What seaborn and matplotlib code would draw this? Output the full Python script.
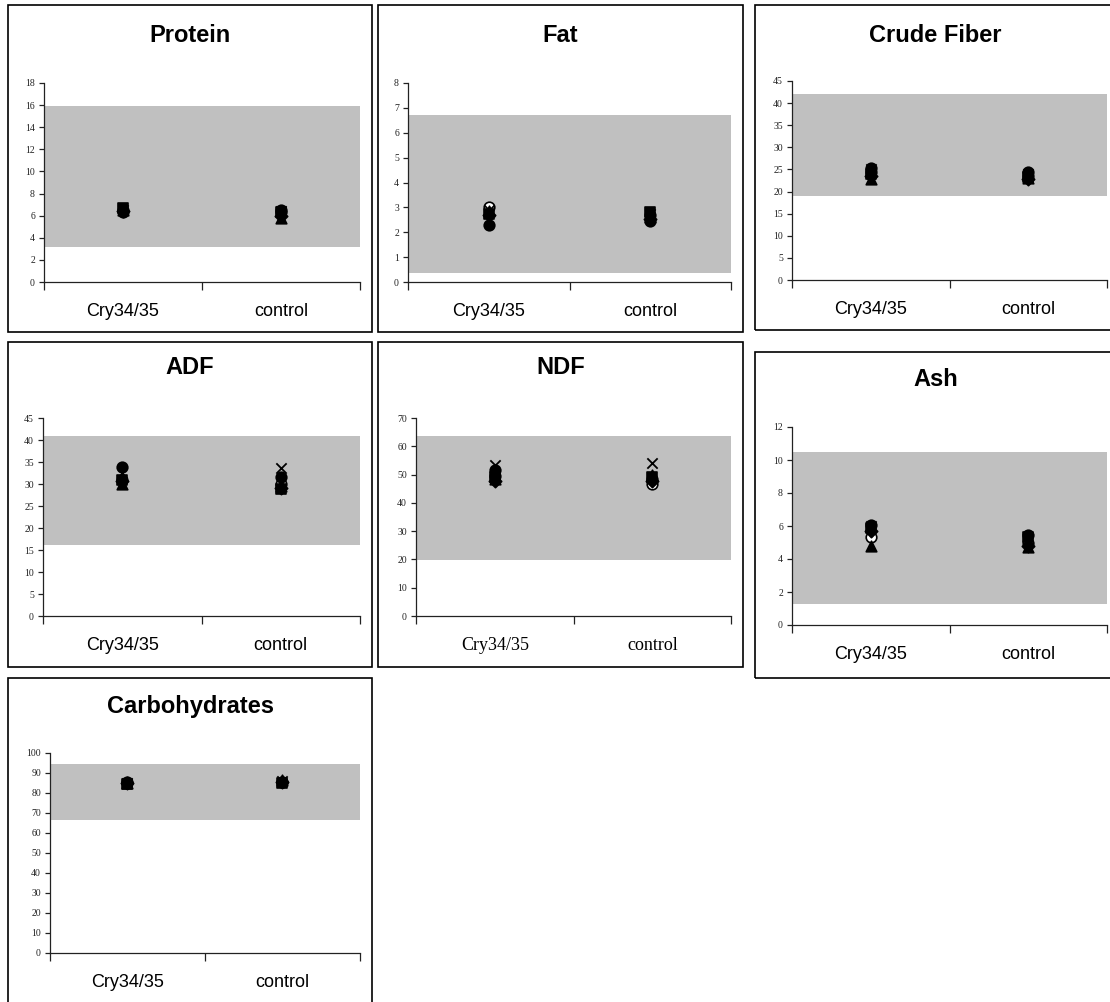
import matplotlib
matplotlib.use("Agg")
import matplotlib.pyplot as plt
import seaborn as sns
import pandas as pd
from matplotlib.patches import Rectangle

# ---- data -------------------------------------------------------------
groups = ["Cry34/35", "control"]
# one marker style per field site
sites = ["site 1", "site 2", "site 3", "site 4", "site 5", "site 6"]
# draw order: open circle and cross first so filled markers sit on top
site_marker = {"site 1": "o", "site 2": "x", "site 3": "o",
               "site 4": "s", "site 5": "^", "site 6": "D"}
site_fill = {"site 1": "white", "site 2": "black", "site 3": "black",
             "site 4": "black", "site 5": "black", "site 6": "black"}

protein_cry = [6.5, 6.5, 6.3, 6.7, 6.5, 6.4]
protein_ctl = [6.3, 6.4, 6.5, 6.3, 5.8, 6.0]
protein_range = (3.15, 15.9)

fat_cry = [3.02, 2.9, 2.28, 2.75, 2.85, 2.7]
fat_ctl = [2.7, 2.75, 2.45, 2.82, 2.6, 2.55]
fat_range = (0.37, 6.7)

fiber_cry = [24.5, 25.0, 25.4, 24.0, 22.8, 23.6]
fiber_ctl = [23.5, 24.0, 24.5, 23.2, 23.0, 22.9]
fiber_range = (19.0, 42.1)

adf_cry = [31.0, 32.5, 33.9, 31.0, 30.0, 30.6]
adf_ctl = [30.0, 33.6, 31.5, 28.9, 29.6, 29.0]
adf_range = (16.1, 40.9)

ndf_cry = [49.5, 53.5, 51.6, 49.0, 48.6, 47.8]
ndf_ctl = [46.7, 54.2, 48.5, 49.0, 49.8, 47.6]
ndf_range = (19.8, 63.6)

ash_cry = [5.35, 6.0, 6.05, 5.85, 4.8, 5.7]
ash_ctl = [5.0, 5.2, 5.45, 5.35, 4.7, 4.8]
ash_range = (1.3, 10.5)

carb_cry = [85.0, 85.2, 85.5, 84.6, 85.0, 84.8]
carb_ctl = [85.5, 85.8, 85.6, 85.2, 86.6, 85.4]
carb_range = (66.5, 94.5)

titles = ["Protein", "Fat", "Crude Fiber", "ADF", "NDF", "Ash", "Carbohydrates"]
y_max = [18, 8, 45, 45, 70, 12, 100]
y_step = [2, 1, 5, 5, 10, 2, 10]

# ---- layout (pixels in a 1110 x 1002 canvas) -------------------------
W, H = 1110, 1002
# axes box: left, right, top, bottom
axes_px = [(44, 360, 83, 282), (408, 731, 83, 282), (792, 1107, 81, 280),
           (43, 360, 418, 616), (416, 731, 418, 616), (792, 1107, 427, 625),
           (50, 360, 753, 953)]
# panel frame: left, right, top, bottom
frame_px = [(8, 372, 5, 332), (378, 743, 5, 332), (755, 1116, 5, 330),
            (8, 372, 342, 667), (378, 743, 342, 667), (755, 1116, 352, 678),
            (8, 372, 678, 1012)]
title_y = [35, 35, 35, 368, 368, 380, 707]

panels = [
    (protein_cry, protein_ctl, protein_range),
    (fat_cry, fat_ctl, fat_range),
    (fiber_cry, fiber_ctl, fiber_range),
    (adf_cry, adf_ctl, adf_range),
    (ndf_cry, ndf_ctl, ndf_range),
    (ash_cry, ash_ctl, ash_range),
    (carb_cry, carb_ctl, carb_range),
]

sns.set_theme(style="white")
plt.rcParams["font.family"] = ["Liberation Sans", "DejaVu Sans"]
plt.rcParams["text.color"] = "black"

fig = plt.figure(figsize=(W / 100, H / 100), dpi=100)
fig.patch.set_facecolor("white")

for i, (cry, ctl, band) in enumerate(panels):
    l, r, t, b = frame_px[i]
    fig.patches.append(Rectangle((l / W, 1 - b / H), (r - l) / W, (b - t) / H,
                                 transform=fig.transFigure, fill=False,
                                 edgecolor="black", linewidth=1.2, zorder=0))
    fig.text(((l + r) / 2) / W, 1 - title_y[i] / H, titles[i],
             ha="center", va="center", fontsize=17, fontweight="bold",
             color="black", family=["Liberation Sans", "DejaVu Sans"])

    al, ar, at, ab = axes_px[i]
    ax = fig.add_axes([al / W, 1 - ab / H, (ar - al) / W, (ab - at) / H])
    ax.set_facecolor("none")

    df = pd.DataFrame({
        "group": [groups[0]] * len(sites) + [groups[1]] * len(sites),
        "site": sites + sites,
        "value": list(cry) + list(ctl),
    })
    ax.axhspan(band[0], band[1], color="#c0c0c0", zorder=0, linewidth=0)
    for k, s in enumerate(sites):
        sub = df[df["site"] == s]
        m = site_marker[s]
        if m == "x":
            sns.scatterplot(data=sub, x="group", y="value", marker="x",
                            color="black", s=55, linewidth=1.3, ax=ax,
                            zorder=2 + k, legend=False)
        else:
            sns.scatterplot(data=sub, x="group", y="value", marker=m,
                            facecolor=site_fill[s], edgecolor="black",
                            s=58 if m != "D" else 40, linewidth=1.2, ax=ax,
                            zorder=2 + k, legend=False)

    ax.set_xlim(-0.5, 1.5)
    ax.set_ylim(0, y_max[i])
    ax.set_yticks(range(0, y_max[i] + 1, y_step[i]))
    ax.set_xticks([-0.5, 0.5, 1.5])
    ax.set_xticklabels([])
    ax.set_xticks([0, 1], minor=True)
    cat_family = ["Liberation Serif"] if titles[i] == "NDF" else ["Liberation Sans"]
    ax.set_xticklabels(groups, minor=True, fontsize=13, family=cat_family,
                       color="black")
    ax.tick_params(axis="x", which="major", direction="out", length=6,
                   width=0.9, color="#222222", bottom=True)
    ax.tick_params(axis="x", which="minor", length=0, pad=15, bottom=True)
    ax.tick_params(axis="y", which="major", direction="out", length=3.5,
                   width=0.9, color="#222222", pad=3, left=True)
    for lab in ax.get_yticklabels():
        lab.set_family(["Liberation Serif"])
        lab.set_fontsize(7)
        lab.set_color("#222222")
    ax.set_xlabel("")
    ax.set_ylabel("")
    for side in ("top", "right"):
        ax.spines[side].set_visible(False)
    for side in ("left", "bottom"):
        ax.spines[side].set_color("#222222")
        ax.spines[side].set_linewidth(0.9)
    ax.grid(False)

fig.savefig("out.png", dpi=100, facecolor="white")
